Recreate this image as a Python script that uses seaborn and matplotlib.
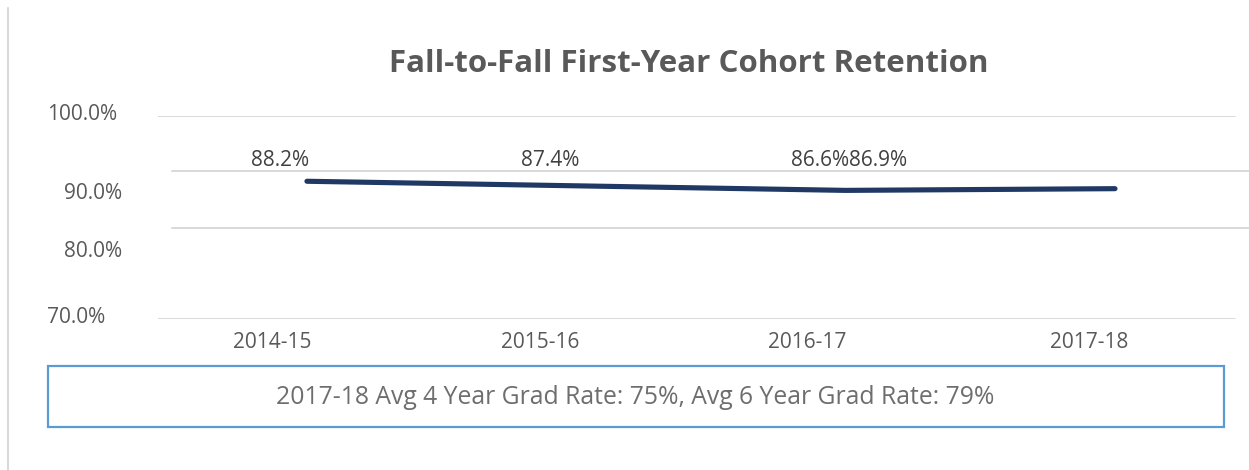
import numpy as np
import pandas as pd
import matplotlib
matplotlib.use("Agg")
import matplotlib.pyplot as plt
import matplotlib.transforms as mtransforms
from matplotlib.patches import Rectangle
from matplotlib.lines import Line2D
import seaborn as sns

# ---- data ----
years = ["2014-15", "2015-16", "2016-17", "2017-18"]
retention = [88.2, 87.4, 86.6, 86.9]
value_labels = ["88.2%", "87.4%", "86.6%", "86.9%"]
ytick_values = [70, 80, 90, 100]
ytick_labels = ["70.0%", "80.0%", "90.0%", "100.0%"]
title = "Fall-to-Fall First-Year Cohort Retention"
footer = "2017-18 Avg 4 Year Grad Rate: 75%, Avg 6 Year Grad Rate: 79%"

df = pd.DataFrame({"year": years, "retention": retention})

sns.set_theme(style="white")
plt.rcParams["font.family"] = ["Open Sans", "DejaVu Sans"]

W, H, DPI = 1249, 470, 100
fig = plt.figure(figsize=(W / DPI, H / DPI), dpi=DPI)

def fx(px):
    return px / W

def fy(py):
    return 1 - py / H

# axes from x=158..1249, y=116..319 (pixels)
ax = fig.add_axes([fx(158), fy(319), fx(1249 - 158), (319 - 116) / H])

# piecewise axis scale, as in the reference
_d = np.array([70.0, 80.0, 90.0, 100.0])
_p = np.array([0.0, 91.0, 148.0, 203.0])

def fwd(v):
    v = np.asarray(v, dtype=float)
    out = np.interp(v, _d, _p)
    lo = v < _d[0]
    hi = v > _d[-1]
    out = np.where(lo, _p[0] + (v - _d[0]) * 9.1, out)
    out = np.where(hi, _p[-1] + (v - _d[-1]) * 5.5, out)
    return out

def inv(p):
    p = np.asarray(p, dtype=float)
    out = np.interp(p, _p, _d)
    lo = p < _p[0]
    hi = p > _p[-1]
    out = np.where(lo, _d[0] + (p - _p[0]) / 9.1, out)
    out = np.where(hi, _d[-1] + (p - _p[-1]) / 5.5, out)
    return out

ax.set_yscale("function", functions=(fwd, inv))

sns.lineplot(data=df, x="year", y="retention", ax=ax, color="#1F3864",
             linewidth=3.7, solid_capstyle="round", sort=False)

ax.set_xlim(-0.553, 3.4975)
ax.set_ylim(70, 100)

for s in ax.spines.values():
    s.set_visible(False)
ax.set_xlabel("")
ax.set_ylabel("")

# gridlines
grid_color = "#D9D9D9"
xspan = 1249 - 158
for v in ytick_values:
    if v in (70, 100):
        xmin, xmax = 0, (1235 - 158) / xspan
    else:
        xmin, xmax = (172 - 158) / xspan, 1
    ax.axhline(v, xmin=xmin, xmax=xmax, color=grid_color, lw=1.4, zorder=0)

# ticks
ax.set_xticks(range(len(years)))
ax.set_xticklabels(years)
ax.set_yticks(ytick_values)
ax.set_yticklabels(ytick_labels)
ax.tick_params(axis="x", length=0, pad=9, labelsize=15, labelcolor="#595959")
ax.tick_params(axis="y", length=0, pad=26, labelsize=15, labelcolor="#595959")

# data labels
label_dx_px = [-27, -26, -26, -237]
for i, (lab, dx) in enumerate(zip(value_labels, label_dx_px)):
    ax.annotate(lab, xy=(i, 90), xycoords="data",
                xytext=(dx * 0.72, 11 * 0.72), textcoords="offset points",
                ha="center", va="center", fontsize=15, color="#404040")

# title
fig.text(fx(689), fy(64), title, ha="center", va="center",
         fontsize=22.5, fontweight="bold", color="#595959")

# footer box
fig.patches.append(Rectangle((fx(48), fy(427)), fx(1224 - 48), (427 - 366) / H,
                             transform=fig.transFigure, fill=False,
                             edgecolor="#5B9BD5", linewidth=1.6))
fig.text(fx(635), fy(397), footer, ha="center", va="center",
         fontsize=17.8, color="#6E6E6E")

# left border
fig.lines.append(Line2D([fx(8), fx(8)], [0, fy(8)], transform=fig.transFigure,
                        color="#D9D9D9", linewidth=1.5))

# tick label offsets as in reference
xt_off = [-35, -36, -38, -26]
for t, dx in zip(ax.get_xticklabels(), xt_off):
    t.set_transform(t.get_transform() +
                    mtransforms.ScaledTranslation(dx / DPI, 0, fig.dpi_scale_trans))
yt_off = {0: (-17, 4), 1: (0, -21), 2: (0, -20), 3: (-5, 4)}
for i, t in enumerate(ax.get_yticklabels()):
    dx, dy = yt_off[i]
    t.set_transform(t.get_transform() +
                    mtransforms.ScaledTranslation(dx / DPI, dy / DPI, fig.dpi_scale_trans))

fig.savefig("out.png", dpi=DPI)
